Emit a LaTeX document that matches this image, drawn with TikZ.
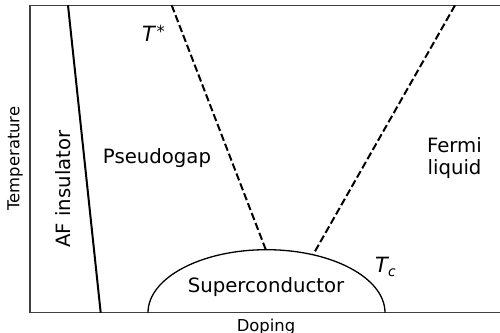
\documentclass[tikz,border=0pt]{standalone}
\usepackage{fontspec}
\setmainfont{DejaVu Sans}
\usepackage{tikz}
\usetikzlibrary{positioning,calc}

\newcommand{\supstar}{\raisebox{3.5bp}{\fontsize{16.5bp}{17bp}\selectfont *}}
\newcommand{\subc}{\raisebox{-4bp}{\fontsize{13.8bp}{14bp}\selectfont\itshape c}}

\begin{document}
\begin{tikzpicture}[x=1bp, y=1bp,
		region/.style={font=\fontsize{19.7bp}{22bp}\selectfont, inner sep=0pt},
		temp/.style={font=\fontsize{21bp}{22bp}\selectfont\itshape, inner sep=0pt},
		axislabel/.style={font=\fontsize{16.4bp}{19bp}\selectfont, inner sep=0pt},
		crossover/.style={line width=2bp, dash pattern=on 7.4bp off 3.2bp}]
		\useasboundingbox (-30,-19.3) rectangle (470,312.7);

		% axes frame
		\coordinate (tl) at (0,307.4);
		\coordinate (bl) at (0,0);
		\draw[black!75, line width=1.1bp] (470,307.4) -- (tl) -- (bl) -- (470,0);

		% superconducting dome
		\coordinate (domeL) at (118,0);
		\draw[line width=1.3bp] (domeL) arc[start angle=180, end angle=0, x radius=118.5, y radius=63];
		\coordinate (domeTop) at (236,62.5);
		\coordinate (domeR) at (283.3,58.4);

		% phase boundaries
		\coordinate (afTop) at (38,307.4);
		\coordinate (afBot) at (70.7,0);
		\draw[line width=2bp] (afTop) -- (afBot);
		\coordinate (tsTop) at (141.7,307.4);
		\coordinate (flTop) at (425,307.4);
		\draw[crossover] (tsTop) -- (domeTop);
		\draw[crossover] (flTop) -- (domeR);

		% labels
		\node[temp, anchor=base west] (tstar) at (112,271.4) {T\kern1.5bp\supstar};
		\node[region, anchor=base] (pg) at (127,149.7) {Pseudogap};
		\node[region, align=center] (fl) at (424.5,155) {Fermi\\liquid};
		\node[region, anchor=base] (sc) at (236,20) {Superconductor};
		\node[temp, anchor=base west] (tc) at (345,40) {T\subc};
		\node[region, anchor=base, rotate=90] (af) at (40,123.7) {AF insulator};

		\node[axislabel, anchor=base, rotate=90] (temp) at (-10.5,154.2) {Temperature};
		\node[axislabel, anchor=base] (dop) at (236,-18.3) {Doping};
	\end{tikzpicture}
\end{document}
